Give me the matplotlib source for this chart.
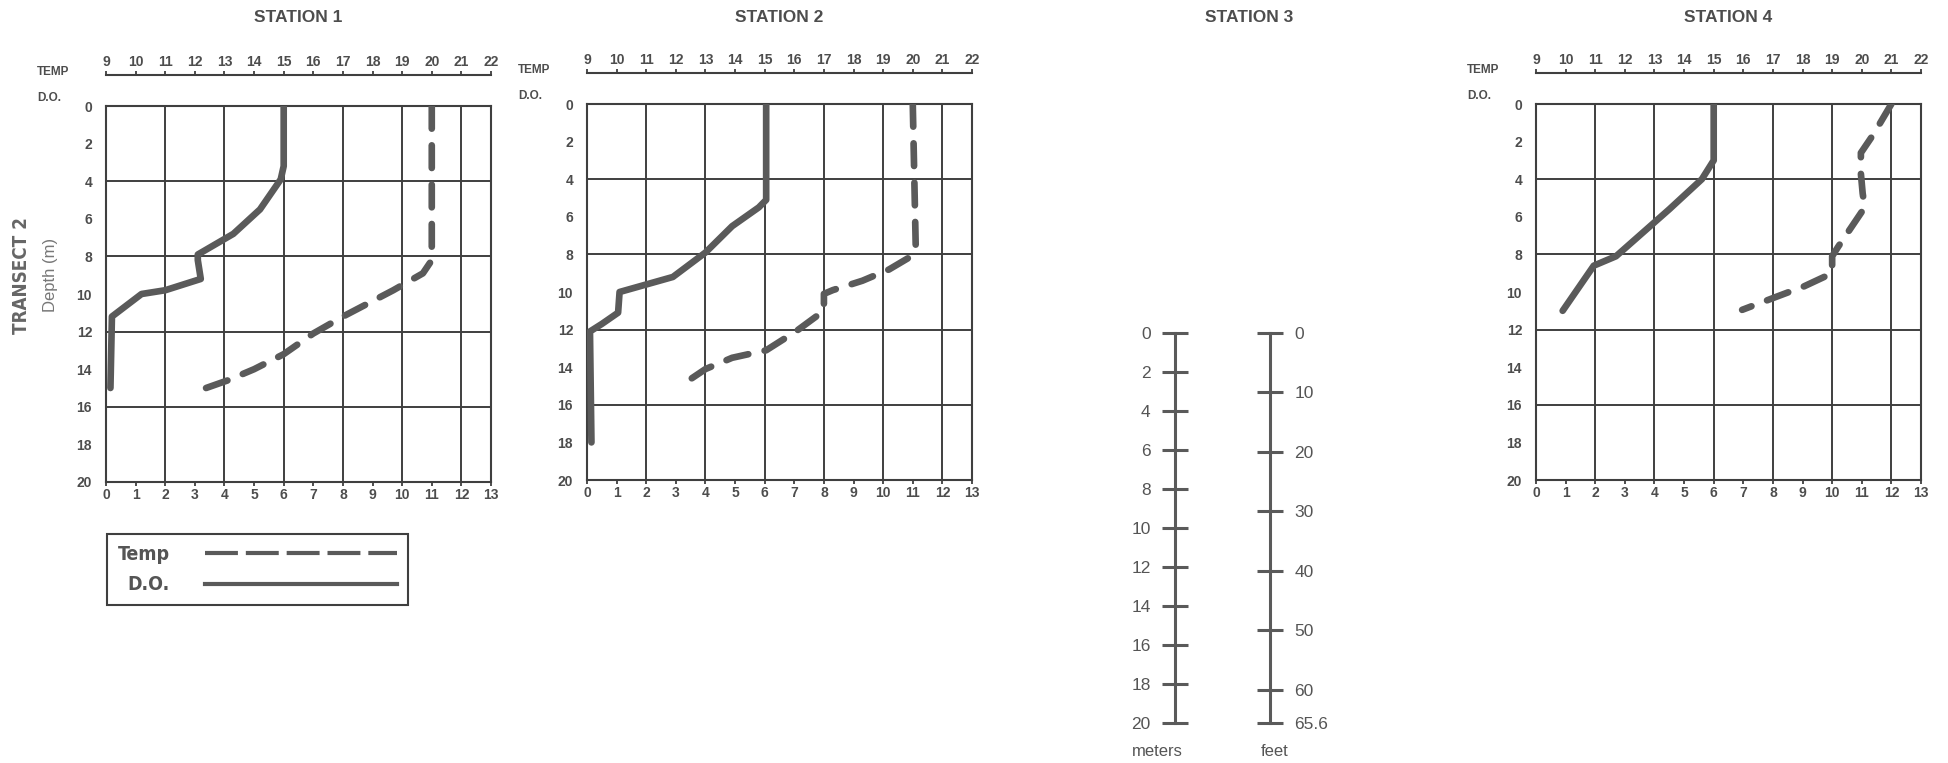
import matplotlib.pyplot as plt
from matplotlib.lines import Line2D

W, H = 1949, 763

# depth profiles: dissolved oxygen (mg/l) and temperature (C)
st1_do_depth = [0, 3.2, 3.9, 5.5, 6.8, 7.9, 8.2, 9.2, 9.8, 10.0, 11.2, 15.0]
st1_do = [6.0, 6.0, 5.9, 5.2, 4.3, 3.1, 3.1, 3.2, 2.0, 1.2, 0.2, 0.15]
st1_temp_depth = [0, 8.2, 8.9, 9.8, 11.2, 12.1, 13.2, 14.0, 14.6, 15.1]
st1_temp = [20.0, 20.0, 19.7, 18.7, 17.0, 16.0, 15.0, 14.0, 13.1, 12.2]

st2_do_depth = [0, 5.1, 5.5, 6.5, 7.9, 9.2, 9.6, 10.0, 11.1, 11.7, 12.1, 18.0]
st2_do = [6.05, 6.05, 5.8, 4.9, 4.0, 2.9, 2.0, 1.1, 1.05, 0.5, 0.1, 0.15]
st2_temp_depth = [0, 7.6, 8.1, 8.8, 9.4, 9.9, 10.1, 11.0, 12.1, 13.1, 13.5, 14.1, 14.95]
st2_temp = [20.0, 20.1, 19.95, 19.2, 18.3, 17.3, 17.0, 17.0, 16.05, 15.05, 13.9, 13.0, 12.2]

st4_do_depth = [0, 3.0, 4.0, 5.6, 8.1, 8.6, 11.0]
st4_do = [6.0, 6.0, 5.6, 4.5, 2.7, 1.95, 0.9]
st4_temp_depth = [0, 1.6, 2.6, 3.7, 4.75, 5.5, 7.6, 8.1, 9.0, 9.7, 10.3, 10.95]
st4_temp = [21.0, 20.4, 19.97, 19.97, 20.03, 20.1, 19.2, 19.0, 19.0, 18.05, 17.04, 15.96]

do_ticks = list(range(0, 14))
temp_ticks = list(range(9, 23))
depth_ticks = list(range(0, 21, 2))
meter_ticks = list(range(0, 21, 2))
feet_ticks = [0, 10, 20, 30, 40, 50, 60, 65.6]
feet_labels = ['0', '10', '20', '30', '40', '50', '60', '65.6']

LINE = '#5a5a5a'
GRID = '#3f3f3f'
TEXT = '#4d4d4d'

plt.rcParams['font.family'] = ['Liberation Sans', 'DejaVu Sans']
plt.rcParams['font.weight'] = 'bold'

fig = plt.figure(figsize=(W / 100, H / 100), dpi=100)

temp_style = dict(color=LINE, lw=4.8, ls=(0, (3.4, 2.5)), dash_capstyle='round',
                  solid_capstyle='round')
do_style = dict(color=LINE, lw=4.8, solid_capstyle='round', solid_joinstyle='round')


def station(left, top, title, do_depth, do_vals, t_depth, t_vals):
    w, h = 385, 376
    ax = fig.add_axes([left / W, 1 - (top + h) / H, w / W, h / H])
    ax.set_xlim(0, 13)
    ax.set_ylim(20, 0)
    ax.xaxis.tick_top()
    ax.set_xticks(do_ticks)
    ax.set_yticks(depth_ticks)
    ax.set_yticks([2, 6, 10, 14, 18], minor=True)
    ax.tick_params(axis='x', direction='out', length=3, width=1.3, pad=1,
                   labelsize=10, colors=GRID, labelcolor=TEXT)
    ax.tick_params(axis='y', which='major', length=0, pad=10, labelsize=10,
                   labelcolor=TEXT)
    ax.tick_params(axis='y', which='minor', direction='inout', length=9,
                   width=1.4, colors=GRID)
    for s in ax.spines.values():
        s.set_color(GRID)
        s.set_linewidth(1.5)
    for x in range(2, 13, 2):
        ax.axvline(x, color=GRID, lw=1.4, zorder=1)
    for y in range(4, 17, 4):
        ax.axhline(y, color=GRID, lw=1.4, zorder=1)
    ax.plot(do_vals, do_depth, zorder=3, **do_style)

    # temperature scale shares the width, 9..22 C
    axt = ax.twiny()
    axt.set_xlim(9, 22)
    axt.set_xticks(temp_ticks)
    axt.spines['top'].set_position(('axes', 1.083))
    for s in ['left', 'right', 'bottom']:
        axt.spines[s].set_visible(False)
    axt.spines['top'].set_color(GRID)
    axt.spines['top'].set_linewidth(1.5)
    axt.tick_params(axis='x', direction='out', length=3, width=1.3, pad=1,
                    labelsize=10, colors=GRID, labelcolor=TEXT)
    axt.plot(t_vals, t_depth, zorder=3, **temp_style)

    fig.text((left + w / 2) / W, 1 - 18 / H, title, ha='center', va='center',
             fontsize=12.5, color=TEXT)
    fig.text((left - 69) / W, 1 - (top - 34) / H, 'TEMP', ha='left', va='center',
             fontsize=8.5, color=TEXT)
    fig.text((left - 69) / W, 1 - (top - 8) / H, 'D.O.', ha='left', va='center',
             fontsize=8.5, color=TEXT)
    return ax


station(106, 106, 'STATION 1', st1_do_depth, st1_do, st1_temp_depth, st1_temp)
station(587, 104, 'STATION 2', st2_do_depth, st2_do, st2_temp_depth, st2_temp)
station(1536, 104, 'STATION 4', st4_do_depth, st4_do, st4_temp_depth, st4_temp)
fig.text(1249 / W, 1 - 18 / H, 'STATION 3', ha='center', va='center',
         fontsize=12.5, color=TEXT)

fig.text(22 / W, 1 - 276 / H, 'TRANSECT 2', rotation=90, ha='center', va='center',
         fontsize=13.5, color='#666666', family='DejaVu Sans', stretch='condensed')
fig.text(51 / W, 1 - 275 / H, 'Depth (m)', rotation=90, ha='center', va='center',
         fontsize=12, weight='normal', color='#777777')

# legend
handles = [Line2D([], [], color=LINE, lw=3, ls=(0, (7.9, 1.9)), label='Temp'),
           Line2D([], [], color=LINE, lw=3, label='D.O.')]
fig.legend(handles=handles, markerfirst=False, loc='upper left',
           bbox_to_anchor=(107 / W, 1 - 534 / H), borderaxespad=0,
           frameon=True, fancybox=False, edgecolor=GRID, framealpha=1,
           handlelength=9.9, handletextpad=1.8, borderpad=0.55, labelspacing=0.6,
           prop=dict(family='DejaVu Sans', stretch='condensed', weight='bold',
                     size=14),
           labelcolor='#555555')
fig.legends[0].get_frame().set_linewidth(1.5)

# depth conversion scale
m_ax = fig.add_axes([1175 / W, 1 - 723 / H, 0.0001, 390 / H])
m_ax.set_ylim(20, 0)
m_ax.set_yticks(meter_ticks)
m_ax.set_xticks([])
for s in ['top', 'right', 'bottom']:
    m_ax.spines[s].set_visible(False)
m_ax.spines['left'].set_color(LINE)
m_ax.spines['left'].set_linewidth(2.2)
m_ax.patch.set_visible(False)
m_ax.tick_params(axis='y', direction='inout', length=19, width=2.2, pad=8,
                 labelsize=12.5, colors=LINE, labelcolor='#555555')
for lbl in m_ax.get_yticklabels():
    lbl.set_fontweight('normal')

f_ax = fig.add_axes([1270 / W - 0.0001, 1 - 723 / H, 0.0001, 390 / H])
f_ax.set_ylim(65.6, 0)
f_ax.yaxis.tick_right()
f_ax.set_yticks(feet_ticks)
f_ax.set_yticklabels(feet_labels)
f_ax.set_xticks([])
for s in ['top', 'left', 'bottom']:
    f_ax.spines[s].set_visible(False)
f_ax.spines['right'].set_color(LINE)
f_ax.spines['right'].set_linewidth(2.2)
f_ax.patch.set_visible(False)
f_ax.tick_params(axis='y', direction='inout', length=19, width=2.2, pad=8,
                 labelsize=12.5, colors=LINE, labelcolor='#555555')
for lbl in f_ax.get_yticklabels():
    lbl.set_fontweight('normal')

fig.text(1157 / W, 1 - 752 / H, 'meters', ha='center', va='center', fontsize=12,
         weight='normal', color='#555555')
fig.text(1275 / W, 1 - 752 / H, 'feet', ha='center', va='center', fontsize=12,
         weight='normal', color='#555555')

fig.savefig('out.png', dpi=100, facecolor='white')
